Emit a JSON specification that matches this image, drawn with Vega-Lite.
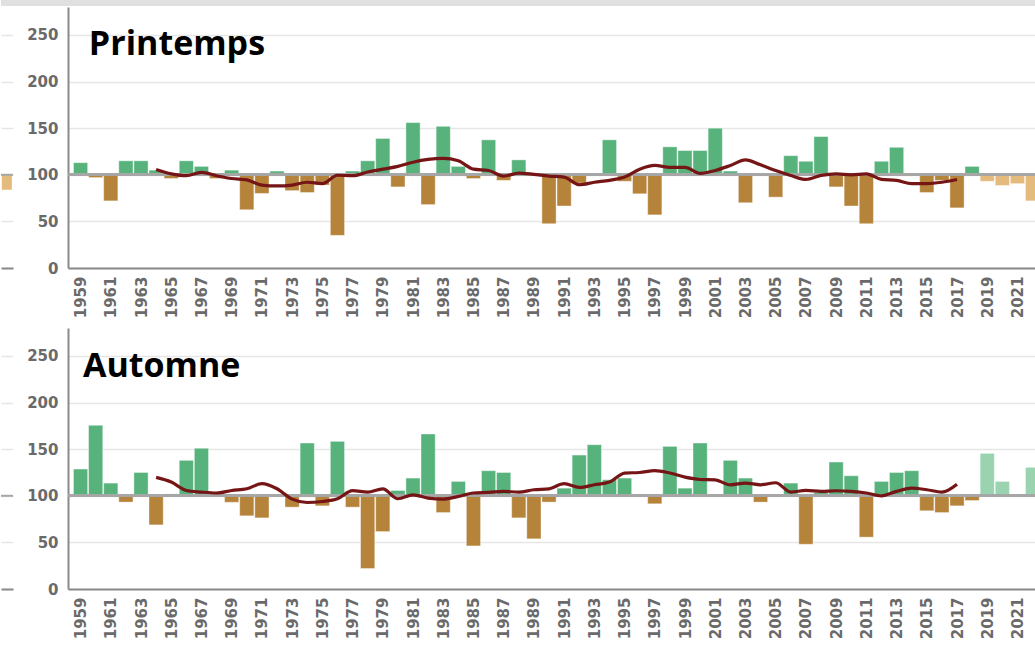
{
  "$schema": "https://vega.github.io/schema/vega-lite/v6.json",
  "padding": 0,
  "background": "white",
  "config": {
    "view": {"stroke": null},
    "axis": {"labelFont": "DejaVu Sans", "labelFontWeight": "bold", "labelColor": "#6a6a6a", "domainColor": "#8a8a8a", "domainWidth": 2, "gridColor": "#e6e6e6", "gridWidth": 1.5, "ticks": false, "title": null},
    "axisX": {"labelOverlap": false, "labelFlush": false, "labelAngle": -90, "labelPadding": 8, "labelFontSize": 15, "grid": false, "format": "d"},
    "axisY": {"values": [0, 50, 100, 150, 200, 250], "labelPadding": 10, "labelFontSize": 15, "grid": true}
  },
  "datasets": {
    "spring": [
      {"year": 1959, "v": 113, "ma": null}, {"year": 1960, "v": 97, "ma": null}, {"year": 1961, "v": 72, "ma": null},
      {"year": 1962, "v": 115, "ma": null}, {"year": 1963, "v": 115, "ma": null}, {"year": 1964, "v": 105, "ma": 105.7},
      {"year": 1965, "v": 96, "ma": 101}, {"year": 1966, "v": 115, "ma": 99}, {"year": 1967, "v": 109, "ma": 102.5},
      {"year": 1968, "v": 96, "ma": 99}, {"year": 1969, "v": 105, "ma": 96}, {"year": 1970, "v": 62.5, "ma": 94.5},
      {"year": 1971, "v": 80, "ma": 89}, {"year": 1972, "v": 104, "ma": 88}, {"year": 1973, "v": 83, "ma": 89},
      {"year": 1974, "v": 81, "ma": 92}, {"year": 1975, "v": 89, "ma": 90.5}, {"year": 1976, "v": 35, "ma": 99.5},
      {"year": 1977, "v": 104, "ma": 99}, {"year": 1978, "v": 115, "ma": 103}, {"year": 1979, "v": 139, "ma": 106},
      {"year": 1980, "v": 87, "ma": 109}, {"year": 1981, "v": 156, "ma": 113.5}, {"year": 1982, "v": 68, "ma": 116.5},
      {"year": 1983, "v": 152, "ma": 117.5}, {"year": 1984, "v": 109, "ma": 115}, {"year": 1985, "v": 96, "ma": 106},
      {"year": 1986, "v": 137.5, "ma": 104.6}, {"year": 1987, "v": 94, "ma": 98.6}, {"year": 1988, "v": 116, "ma": 101.8},
      {"year": 1989, "v": 99.5, "ma": 100.4}, {"year": 1990, "v": 47.5, "ma": 98.6}, {"year": 1991, "v": 66.5, "ma": 97.5},
      {"year": 1992, "v": 91, "ma": 89.3}, {"year": 1993, "v": 100, "ma": 92}, {"year": 1994, "v": 137.5, "ma": 94},
      {"year": 1995, "v": 93, "ma": 97.5}, {"year": 1996, "v": 79.6, "ma": 106}, {"year": 1997, "v": 57, "ma": 110},
      {"year": 1998, "v": 130, "ma": 108}, {"year": 1999, "v": 126, "ma": 108}, {"year": 2000, "v": 126, "ma": 101.5},
      {"year": 2001, "v": 150, "ma": 104.6}, {"year": 2002, "v": 104, "ma": 110}, {"year": 2003, "v": 70, "ma": 116},
      {"year": 2004, "v": 100, "ma": 110.7}, {"year": 2005, "v": 76, "ma": 104.6}, {"year": 2006, "v": 120.5, "ma": 99.3},
      {"year": 2007, "v": 114.5, "ma": 95}, {"year": 2008, "v": 141, "ma": 99.3}, {"year": 2009, "v": 87, "ma": 101},
      {"year": 2010, "v": 66.5, "ma": 100}, {"year": 2011, "v": 47.5, "ma": 101}, {"year": 2012, "v": 114.5, "ma": 95},
      {"year": 2013, "v": 129.5, "ma": 94}, {"year": 2014, "v": 100, "ma": 90.5}, {"year": 2015, "v": 81, "ma": 90.5},
      {"year": 2016, "v": 94, "ma": 92}, {"year": 2017, "v": 64.5, "ma": 95}, {"year": 2018, "v": 109, "ma": null},
      {"year": 2019, "v": 93, "ma": null}, {"year": 2020, "v": 88.5, "ma": null}, {"year": 2021, "v": 90.5, "ma": null},
      {"year": 2022, "v": 72, "ma": null}
    ],
    "autumn": [
      {"year": 1959, "v": 128.7, "ma": null}, {"year": 1960, "v": 175.6, "ma": null}, {"year": 1961, "v": 113.6, "ma": null},
      {"year": 1962, "v": 93.2, "ma": null}, {"year": 1963, "v": 125, "ma": null}, {"year": 1964, "v": 68.8, "ma": 119.7},
      {"year": 1965, "v": 102, "ma": 114.7}, {"year": 1966, "v": 138, "ma": 105.7}, {"year": 1967, "v": 151, "ma": 104},
      {"year": 1968, "v": 100, "ma": 103}, {"year": 1969, "v": 93, "ma": 105.7}, {"year": 1970, "v": 78.5, "ma": 107.5},
      {"year": 1971, "v": 76.3, "ma": 113}, {"year": 1972, "v": 100, "ma": 107.5}, {"year": 1973, "v": 87.8, "ma": 96.4},
      {"year": 1974, "v": 156.6, "ma": 92.8}, {"year": 1975, "v": 89.2, "ma": 93.9}, {"year": 1976, "v": 158.4, "ma": 96.8},
      {"year": 1977, "v": 87.8, "ma": 105.5}, {"year": 1978, "v": 22, "ma": 104}, {"year": 1979, "v": 61.6, "ma": 107.5},
      {"year": 1980, "v": 105.7, "ma": 96.8}, {"year": 1981, "v": 119, "ma": 101}, {"year": 1982, "v": 166.3, "ma": 97.5},
      {"year": 1983, "v": 82, "ma": 96.4}, {"year": 1984, "v": 115.4, "ma": 99.3}, {"year": 1985, "v": 46.2, "ma": 103},
      {"year": 1986, "v": 126.9, "ma": 103.6}, {"year": 1987, "v": 125, "ma": 104.7}, {"year": 1988, "v": 76.3, "ma": 104},
      {"year": 1989, "v": 53.8, "ma": 106.5}, {"year": 1990, "v": 93.2, "ma": 107.5}, {"year": 1991, "v": 108.2, "ma": 113},
      {"year": 1992, "v": 143.7, "ma": 109}, {"year": 1993, "v": 154.8, "ma": 111.8}, {"year": 1994, "v": 117.2, "ma": 114.7},
      {"year": 1995, "v": 119, "ma": 124.4}, {"year": 1996, "v": 100, "ma": 125}, {"year": 1997, "v": 91.4, "ma": 127},
      {"year": 1998, "v": 153, "ma": 124.4}, {"year": 1999, "v": 108.2, "ma": 120}, {"year": 2000, "v": 156.6, "ma": 117.5},
      {"year": 2001, "v": 100, "ma": 117}, {"year": 2002, "v": 138, "ma": 111.8}, {"year": 2003, "v": 119, "ma": 113.6},
      {"year": 2004, "v": 93.2, "ma": 111.8}, {"year": 2005, "v": 100, "ma": 114}, {"year": 2006, "v": 113.6, "ma": 104},
      {"year": 2007, "v": 48, "ma": 105.7}, {"year": 2008, "v": 103.5, "ma": 104.7}, {"year": 2009, "v": 136.2, "ma": 105.4},
      {"year": 2010, "v": 121.5, "ma": 104.7}, {"year": 2011, "v": 55.6, "ma": 103}, {"year": 2012, "v": 115.4, "ma": 100},
      {"year": 2013, "v": 125, "ma": 104.7}, {"year": 2014, "v": 126.9, "ma": 108.2}, {"year": 2015, "v": 83.9, "ma": 106.5},
      {"year": 2016, "v": 82, "ma": 104}, {"year": 2017, "v": 89.2, "ma": 112.5}, {"year": 2018, "v": 94.9, "ma": null},
      {"year": 2019, "v": 145.5, "ma": null}, {"year": 2020, "v": 115.4, "ma": null}, {"year": 2021, "v": 100, "ma": null},
      {"year": 2022, "v": 130.5, "ma": null}
    ],
    "fragTop": [{"year": 2022, "v": 84}],
    "fragBottom": [{"year": 2022, "v": 100}]
  },
  "spacing": 1,
  "vconcat": [
    {
      "width": 1035, "height": 6,
      "data": {"values": [{}]},
      "mark": {"type": "point", "opacity": 0, "size": 1},
      "encoding": {},
      "view": {"fill": "#e0e0e0", "stroke": null}
    },
    {
      "spacing": 10,
      "vconcat": [
        {
          "spacing": 12,
          "hconcat": [
            {
              "width": 12, "height": 261,
              "data": {"name": "fragTop"},
              "layer": [
                {
                  "mark": {"type": "bar", "width": 10, "fill": "#e5ba7d"},
                  "encoding": {
                    "x": {"field": "year", "type": "quantitative", "scale": {"domain": [2021.6726, 2022.4585], "nice": false, "zero": false}, "axis": {"labels": false, "grid": false, "domain": true, "values": []}},
                    "y": {"field": "v", "type": "quantitative", "scale": {"domain": [0, 280], "nice": false}, "axis": {"labels": false, "domain": false, "grid": true}},
                    "y2": {"datum": 100}
                  }
                },
                {"mark": {"type": "rule", "color": "#a6a6a6", "strokeWidth": 2}, "encoding": {"y": {"datum": 100}}}
              ]
            },
            {
              "width": 967, "height": 261,
              "data": {"name": "spring"},
              "layer": [
                {
                  "mark": {"type": "bar", "width": 14.2, "clip": true, "stroke": "#ffffff", "strokeWidth": 0.8, "strokeOpacity": 0.5},
                  "encoding": {
                    "x": {"field": "year", "type": "quantitative", "scale": {"domain": [1958.5, 2021.83], "nice": false, "zero": false}, "axis": {"values": [1959,1961,1963,1965,1967,1969,1971,1973,1975,1977,1979,1981,1983,1985,1987,1989,1991,1993,1995,1997,1999,2001,2003,2005,2007,2009,2011,2013,2015,2017,2019,2021]}},
                    "y": {"field": "v", "type": "quantitative", "scale": {"domain": [0, 280], "nice": false}},
                    "y2": {"datum": 100},
                    "fill": {"condition": [
                      {"test": "datum.year >= 2019 && datum.v >= 100", "value": "#9ad3b0"},
                      {"test": "datum.year >= 2019", "value": "#e5ba7d"},
                      {"test": "datum.v >= 100", "value": "#57b27c"}
                    ], "value": "#b5833a"}
                  }
                },
                {"mark": {"type": "rule", "color": "#a6a6a6", "strokeWidth": 2}, "encoding": {"y": {"datum": 100}}},
                {
                  "transform": [{"filter": "isValid(datum.ma)"}],
                  "mark": {"type": "line", "color": "#761515", "strokeWidth": 3.2, "interpolate": "monotone"},
                  "encoding": {"x": {"field": "year", "type": "quantitative", "axis": {"values": [1959,1961,1963,1965,1967,1969,1971,1973,1975,1977,1979,1981,1983,1985,1987,1989,1991,1993,1995,1997,1999,2001,2003,2005,2007,2009,2011,2013,2015,2017,2019,2021]}}, "y": {"field": "ma", "type": "quantitative"}}
                },
                {
                  "data": {"values": [{}]},
                  "mark": {"type": "text", "font": "Open Sans", "fontWeight": "bold", "fontSize": 34, "align": "left", "baseline": "alphabetic", "color": "#000000"},
                  "encoding": {"x": {"datum": 1959.55, "axis": {"values": [1959,1961,1963,1965,1967,1969,1971,1973,1975,1977,1979,1981,1983,1985,1987,1989,1991,1993,1995,1997,1999,2001,2003,2005,2007,2009,2011,2013,2015,2017,2019,2021]}}, "y": {"datum": 228}, "text": {"value": "Printemps"}}
                }
              ]
            }
          ]
        },
        {
          "spacing": 12,
          "hconcat": [
            {
              "width": 12, "height": 261,
              "data": {"name": "fragBottom"},
              "layer": [
                {
                  "mark": {"type": "bar", "width": 10, "fill": "#e5ba7d"},
                  "encoding": {
                    "x": {"field": "year", "type": "quantitative", "scale": {"domain": [2021.6726, 2022.4585], "nice": false, "zero": false}, "axis": {"labels": false, "grid": false, "domain": true, "values": []}},
                    "y": {"field": "v", "type": "quantitative", "scale": {"domain": [0, 280], "nice": false}, "axis": {"labels": false, "domain": false, "grid": true}},
                    "y2": {"datum": 100}
                  }
                },
                {"mark": {"type": "rule", "color": "#a6a6a6", "strokeWidth": 2}, "encoding": {"y": {"datum": 100}}}
              ]
            },
            {
              "width": 967, "height": 261,
              "data": {"name": "autumn"},
              "layer": [
                {
                  "mark": {"type": "bar", "width": 14.2, "clip": true, "stroke": "#ffffff", "strokeWidth": 0.8, "strokeOpacity": 0.5},
                  "encoding": {
                    "x": {"field": "year", "type": "quantitative", "scale": {"domain": [1958.5, 2021.83], "nice": false, "zero": false}, "axis": {"values": [1959,1961,1963,1965,1967,1969,1971,1973,1975,1977,1979,1981,1983,1985,1987,1989,1991,1993,1995,1997,1999,2001,2003,2005,2007,2009,2011,2013,2015,2017,2019,2021]}},
                    "y": {"field": "v", "type": "quantitative", "scale": {"domain": [0, 280], "nice": false}},
                    "y2": {"datum": 100},
                    "fill": {"condition": [
                      {"test": "datum.year >= 2019 && datum.v >= 100", "value": "#9ad3b0"},
                      {"test": "datum.year >= 2019", "value": "#e5ba7d"},
                      {"test": "datum.v >= 100", "value": "#57b27c"}
                    ], "value": "#b5833a"}
                  }
                },
                {"mark": {"type": "rule", "color": "#a6a6a6", "strokeWidth": 2}, "encoding": {"y": {"datum": 100}}},
                {
                  "transform": [{"filter": "isValid(datum.ma)"}],
                  "mark": {"type": "line", "color": "#761515", "strokeWidth": 3.2, "interpolate": "monotone"},
                  "encoding": {"x": {"field": "year", "type": "quantitative", "axis": {"values": [1959,1961,1963,1965,1967,1969,1971,1973,1975,1977,1979,1981,1983,1985,1987,1989,1991,1993,1995,1997,1999,2001,2003,2005,2007,2009,2011,2013,2015,2017,2019,2021]}}, "y": {"field": "ma", "type": "quantitative"}}
                },
                {
                  "data": {"values": [{}]},
                  "mark": {"type": "text", "font": "Open Sans", "fontWeight": "bold", "fontSize": 34, "align": "left", "baseline": "alphabetic", "color": "#000000"},
                  "encoding": {"x": {"datum": 1959.16, "axis": {"values": [1959,1961,1963,1965,1967,1969,1971,1973,1975,1977,1979,1981,1983,1985,1987,1989,1991,1993,1995,1997,1999,2001,2003,2005,2007,2009,2011,2013,2015,2017,2019,2021]}}, "y": {"datum": 227}, "text": {"value": "Automne"}}
                }
              ]
            }
          ]
        }
      ]
    }
  ]
}
